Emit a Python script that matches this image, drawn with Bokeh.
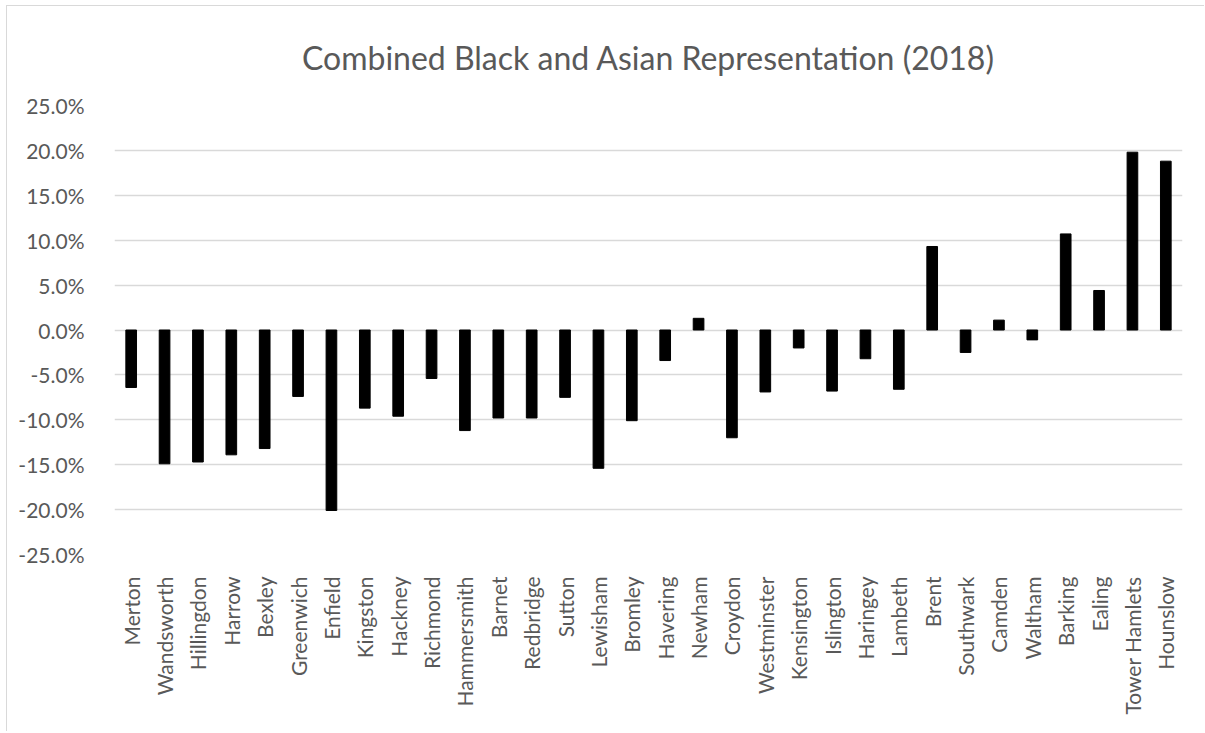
import math
from bokeh.plotting import figure
from bokeh.models import FactorRange, Range1d, FixedTicker, NumeralTickFormatter, ColumnDataSource
from bokeh.embed import file_html
from bokeh.resources import INLINE

# London boroughs, ordered as in the chart
boroughs = [
    "Merton", "Wandsworth", "Hillingdon", "Harrow", "Bexley", "Greenwich",
    "Enfield", "Kingston", "Hackney", "Richmond", "Hammersmith", "Barnet",
    "Redbridge", "Sutton", "Lewisham", "Bromley", "Havering", "Newham",
    "Croydon", "Westminster", "Kensington", "Islington", "Haringey", "Lambeth",
    "Brent", "Southwark", "Camden", "Waltham", "Barking", "Ealing",
    "Tower Hamlets", "Hounslow",
]

# Combined Black and Asian representation gap (fraction)
representation = [
    -0.064, -0.149, -0.147, -0.139, -0.132, -0.074,
    -0.201, -0.087, -0.096, -0.054, -0.112, -0.098,
    -0.098, -0.075, -0.154, -0.101, -0.034, 0.013,
    -0.120, -0.069, -0.020, -0.068, -0.032, -0.066,
    0.093, -0.025, 0.011, -0.011, 0.107, 0.044,
    0.198, 0.188,
]

y_ticks = [-0.25, -0.20, -0.15, -0.10, -0.05, 0.0, 0.05, 0.10, 0.15, 0.20, 0.25]

FONT = "Lato"
TEXT = "#595959"
GRID = "#D9D9D9"

source = ColumnDataSource(data=dict(borough=boroughs, value=representation))

p = figure(
    x_range=FactorRange(*boroughs),
    y_range=Range1d(y_ticks[0], y_ticks[-1]),
    width=1198, height=726,
    output_backend="svg", toolbar_location=None,
    min_border_left=107, min_border_right=23,
    min_border_top=99, min_border_bottom=178,
    title="Combined Black and Asian Representation (2018)",
)
p.margin = (5, 0, 0, 6)
p.styles = {"border-left": f"1px solid {GRID}", "border-top": f"1px solid {GRID}"}

p.vbar(x="borough", top="value", bottom=0, width=0.32, source=source,
       fill_color="black", line_color="black")

p.title.text_font = FONT
p.title.text_font_size = "32px"
p.title.text_font_style = "normal"
p.title.text_color = TEXT
p.title.align = "center"
p.title.standoff = 57

p.outline_line_color = None
p.background_fill_color = "white"
p.border_fill_color = "white"

p.xgrid.grid_line_color = None
p.ygrid.ticker = FixedTicker(ticks=y_ticks)
p.ygrid.grid_line_color = GRID
p.ygrid.grid_line_width = 1.3

p.yaxis.ticker = FixedTicker(ticks=y_ticks)
p.yaxis.formatter = NumeralTickFormatter(format="0.0%")
p.yaxis.axis_line_color = None
p.yaxis.major_tick_line_color = None
p.yaxis.minor_tick_line_color = None
p.yaxis.major_label_standoff = 24
p.yaxis.major_label_text_font = FONT
p.yaxis.major_label_text_font_size = "21px"
p.yaxis.major_label_text_color = TEXT

p.xaxis.axis_line_color = None
p.xaxis.major_tick_line_color = None
p.xaxis.major_label_orientation = math.pi / 2
p.xaxis.major_label_standoff = 16
p.xaxis.major_label_text_font = FONT
p.xaxis.major_label_text_font_size = "21px"
p.xaxis.major_label_text_color = TEXT

open("out.html", "w").write(file_html(p, INLINE))
